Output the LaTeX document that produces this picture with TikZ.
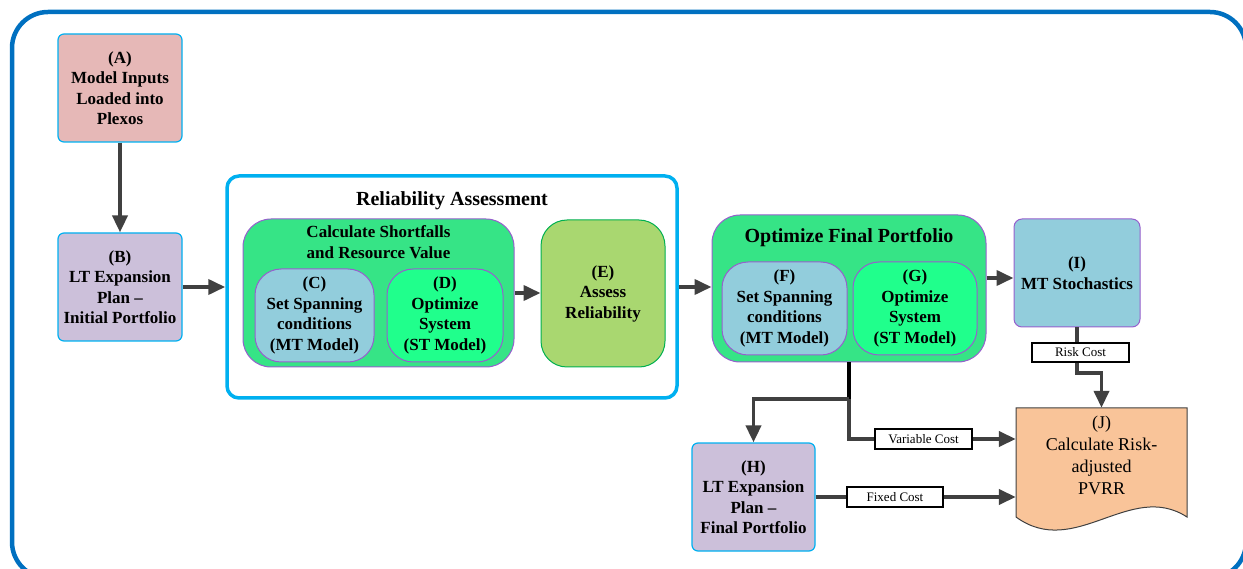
\documentclass[tikz,border=0pt]{standalone}
\usepackage{fontspec}
\setmainfont{Liberation Serif}
\usetikzlibrary{arrows.meta,calc}

\definecolor{framebl}{RGB}{0,112,192}
\definecolor{cyanln}{RGB}{0,176,240}
\definecolor{pinkA}{RGB}{230,184,183}
\definecolor{lavB}{RGB}{204,192,218}
\definecolor{grnbox}{RGB}{54,228,134}
\definecolor{bluC}{RGB}{146,205,220}
\definecolor{grnD}{RGB}{32,255,140}
\definecolor{oliveE}{RGB}{169,215,112}
\definecolor{grnln}{RGB}{0,176,80}
\definecolor{purpln}{RGB}{150,95,205}
\definecolor{peachJ}{RGB}{249,196,153}
\definecolor{arrgray}{RGB}{64,64,64}

\begin{document}
\begin{tikzpicture}[x=1pt,y=-1pt,
  txt/.style={align=center,font=\fontsize{17}{20.5}\selectfont\bfseries},
  ttl/.style={align=center,font=\fontsize{20}{24}\selectfont\bfseries},
  plainbox/.style={txt,draw=cyanln,line width=1.2pt,rounded corners=6pt,inner sep=0pt},
  roundbox/.style={txt,draw=purpln,line width=1pt,rounded corners=26pt,inner sep=0pt},
  cost/.style={draw=black,line width=1.2pt,fill=white,font=\fontsize{13}{15}\selectfont,inner sep=0pt},
  flow/.style={draw=arrgray,line width=3.8pt,-{Triangle[length=17pt,width=15pt]}},
  flowline/.style={draw=arrgray,line width=3.8pt}]
  \useasboundingbox (0,0) rectangle (1243,569);
  % outer frame
  \draw[framebl,line width=4.5pt,rounded corners=36pt] (12,12) rectangle (1246,578);

  % left column
  \node[plainbox,fill=pinkA,minimum width=124pt,minimum height=108pt] (A) at (120,88) {(A)\\Model Inputs\\Loaded into\\Plexos};
  \node[plainbox,fill=lavB,minimum width=124pt,minimum height=108pt] (B) at (120,287) {(B)\\LT Expansion\\Plan –\\Initial Portfolio};

  % reliability assessment
  \node[draw=cyanln,line width=3.5pt,rounded corners=12pt,fill=white,minimum width=450pt,minimum height=222pt] (RA) at (452,287) {};
  \node[ttl] (RAtitle) at (452,201) {Reliability Assessment};
  \node[roundbox,fill=grnbox,minimum width=271pt,minimum height=148pt,rounded corners=28pt] (calc) at (378.5,293) {};
  \node[txt] (calcTitle) at (378.5,242) {Calculate Shortfalls\\and Resource Value};
  \node[roundbox,fill=bluC,minimum width=119pt,minimum height=93pt] (C) at (314.5,315.5) {(C)\\Set Spanning\\conditions\\(MT Model)};
  \node[roundbox,fill=grnD,minimum width=116pt,minimum height=93pt] (D) at (445,315.5) {(D)\\Optimize\\System\\(ST Model)};
  \node[roundbox,draw=grnln,fill=oliveE,minimum width=124pt,minimum height=147pt] (E) at (603,293.5) {(E)\\Assess\\Reliability};

  % final portfolio
  \node[roundbox,fill=grnbox,minimum width=274pt,minimum height=147pt,rounded corners=28pt] (opt) at (849,288.5) {};
  \node[ttl] (optTitle) at (849,238) {Optimize Final Portfolio};
  \node[roundbox,fill=bluC,minimum width=125pt,minimum height=93pt] (F) at (784.5,308.5) {(F)\\Set Spanning\\conditions\\(MT Model)};
  \node[roundbox,fill=grnD,minimum width=124pt,minimum height=93pt] (G) at (915,308.5) {(G)\\Optimize\\System\\(ST Model)};
  \node[roundbox,fill=bluC,rounded corners=8pt,minimum width=126pt,minimum height=108pt] (I) at (1077,273) {(I)\\MT Stochastics};
  \node[plainbox,fill=lavB,minimum width=123pt,minimum height=108pt] (H) at (753.5,497) {(H)\\LT Expansion\\Plan –\\Final Portfolio};

  % risk-adjusted PVRR
  \draw[arrgray,line width=1pt,fill=peachJ] (1016,408) -- (1187,408) -- (1187,517)
    .. controls (1130,480) and (1075,560) .. (1016,517) -- cycle;
  \node[align=center,font=\fontsize{18}{22}\selectfont,minimum width=171pt,minimum height=94pt,inner sep=0pt] (J) at (1101.5,455) {(J)\\Calculate Risk-\\adjusted\\PVRR};

  \coordinate (oi) at ([yshift=-5pt]I.west);
  \coordinate (junc) at (opt.south |- 0,399);
  \coordinate (jv) at (J.west |- 0,439);
  \coordinate (rk) at (I.south |- 0,373);

  \draw[flow] (A) -- (B);
  \draw[flow] (B) -- (RA);
  \draw[flow] (calc.east) -- (calc.east -| E.west);
  \draw[flow] (RA.east) -- (RA.east -| opt.west);
  \draw[flow] (opt.east |- oi) -- (oi);
  \draw[flowline,draw=black] (opt.south) -- (junc);
  \draw[flow] (junc) -| (H.north);
  \draw[flow] (junc) |- (jv);
  \draw[flow] (H.east) -- (H.east -| J.west);
  \draw[flow] (I.south) -- (rk) -| (J.north);

  % cost labels
  \node[cost,minimum width=97pt,minimum height=19pt] (riskLbl) at (1080.5,352.5) {Risk Cost};
  \node[cost,minimum width=97pt,minimum height=20pt] (varLbl) at (923.5,439) {Variable Cost};
  \node[cost,minimum width=96pt,minimum height=20pt] (fixLbl) at (895,497) {Fixed Cost};
\end{tikzpicture}
\end{document}
